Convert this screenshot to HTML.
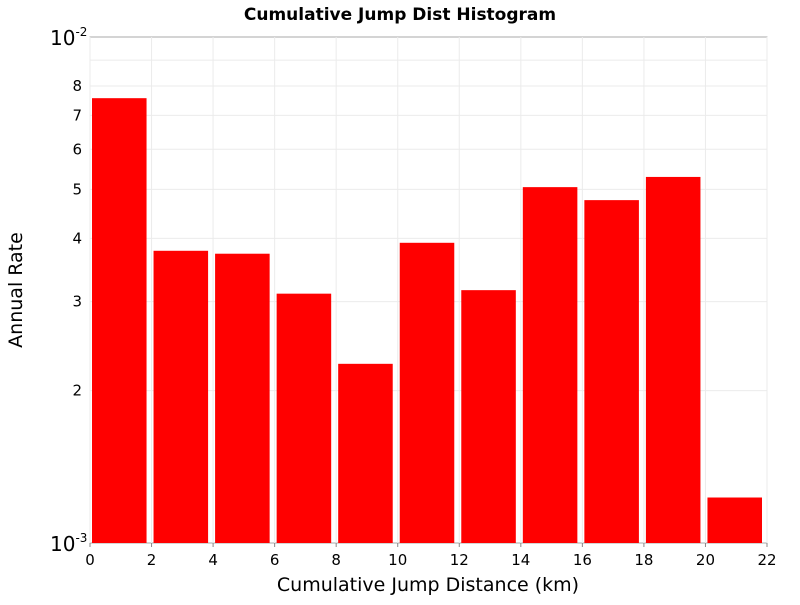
<!DOCTYPE html>
<html><head><meta charset="utf-8"><style>
body{margin:0;background:#fff;}
svg text{font-family:"DejaVu Sans","Liberation Sans",sans-serif;}
</style></head><body>
<svg id="chart" width="800" height="600" xmlns="http://www.w3.org/2000/svg">
<text x="400" y="20" text-anchor="middle" font-size="17" font-weight="bold">Cumulative Jump Dist Histogram</text>
<rect x="90" y="37" width="677" height="506" fill="#fff" stroke="#aaa" stroke-width="1"/>
<g id="grid"></g>
<g id="bars"></g>
<g id="xaxis"></g>
<g id="yaxis"></g>
<text x="428" y="591" text-anchor="middle" font-size="19">Cumulative Jump Distance (km)</text>
<text transform="translate(22,290) rotate(-90)" text-anchor="middle" font-size="19">Annual Rate</text>
</svg>
<script>
const binStarts=[0,2,4,6,8,10,12,14,16,18,20];
const rates=[7.57e-3,3.78e-3,3.73e-3,3.11e-3,2.26e-3,3.92e-3,3.16e-3,5.05e-3,4.76e-3,5.29e-3,1.23e-3];
const binWidth=2;
const xTicks=[0,2,4,6,8,10,12,14,16,18,20,22];
const yMinorTicks=[2,3,4,5,6,7,8];
const NS="http://www.w3.org/2000/svg";
const L=90,R=767,T=37,B=543;
const xs=v=>L+(v-0)/(22-0)*(R-L);
const ys=v=>B-(Math.log10(v)+3)*(B-T);
function mk(tag,attrs,parent,txt){const e=document.createElementNS(NS,tag);for(const k in attrs)e.setAttribute(k,attrs[k]);if(txt!==undefined)e.textContent=txt;parent.appendChild(e);return e;}
const grid=document.getElementById('grid'),bars=document.getElementById('bars'),xa=document.getElementById('xaxis'),ya=document.getElementById('yaxis');
xTicks.forEach(t=>{
  const g=mk('line',{x1:xs(t),x2:xs(t),y1:T,y2:B,stroke:'#ebebeb'},grid);
  
  
  const tk=mk('line',{x1:xs(t),x2:xs(t),y1:B,y2:B+4,stroke:'#888'},xa);
  
  
  const lb=mk('text',{x:xs(t),y:B+22,'text-anchor':'middle','font-size':'15'},xa,String(t));
  
  
});
[9].concat(yMinorTicks).forEach(m=>{
  const y=ys(m*1e-3);
  const g=mk('line',{x1:L,x2:R,y1:y,y2:y,stroke:'#ebebeb'},grid);
  
  
});
yMinorTicks.forEach(m=>{
  const y=ys(m*1e-3);
  const lb=mk('text',{x:82,y:y+5,'text-anchor':'end','font-size':'15'},ya,String(m));
  
  
});
[[1e-2,'-2'],[1e-3,'-3']].forEach(([v,e])=>{
  const t=mk('text',{x:50,y:ys(v)+8,'font-size':'20'},ya);
  
  
  mk('tspan',{},t,'10');
  mk('tspan',{dy:'-9','font-size':'12'},t,e);
});
binStarts.forEach((s,i)=>{
  const x0=xs(s)+2,x1=xs(s+binWidth)-5;
  const y=ys(rates[i]);
  const r=mk('rect',{x:x0,y:y,width:x1-x0,height:B-y,fill:'#ff0000'},bars);
  
  
});
</script>
</body></html>
